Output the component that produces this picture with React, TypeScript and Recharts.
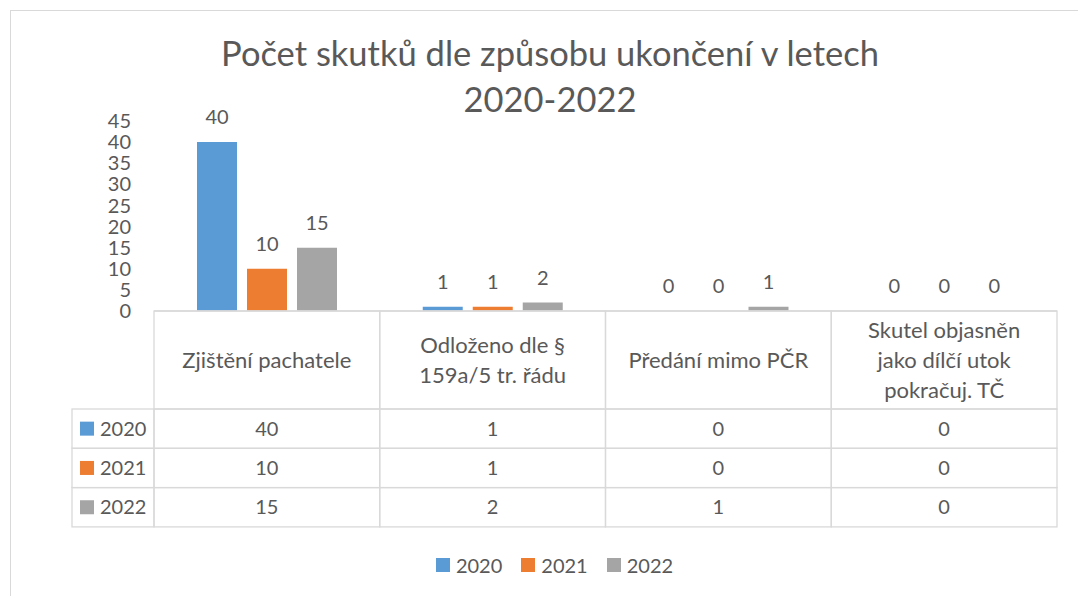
import React from "react";
import { Bar, BarChart, LabelList, Legend, XAxis, YAxis } from "recharts";

const categories = [
  "Zjištění pachatele",
  "Odloženo dle §\n159a/5 tr. řádu",
  "Předání mimo PČR",
  "Skutel objasněn\njako dílčí utok\npokračuj. TČ",
];
const years = ["2020", "2021", "2022"];
const values2020 = [40, 1, 0, 0];
const values2021 = [10, 1, 0, 0];
const values2022 = [15, 2, 1, 0];
const yTicks = [0, 5, 10, 15, 20, 25, 30, 35, 40, 45];
const colors = ["#5B9BD5", "#ED7D31", "#A5A5A5"];
const titleLines = ["Počet skutků dle způsobu ukončení v letech", "2020-2022"];

const series = [values2020, values2021, values2022];
const keys = years.map((y) => "y" + y);

const data = categories.map((name, i) => {
  const row: Record<string, string | number> = { name };
  keys.forEach((k, s) => {
    row[k] = series[s][i];
  });
  return row;
});

// layout
const W = 1078;
const H = 596;
const PLOT_L = 154;
const PLOT_R = 1057;
const CW = (PLOT_R - PLOT_L) / categories.length;
const HEADER_H = 98;
const ROW_H = 39.3;
const LABEL_W = 82;
const LINE_H = 30;
const GRID = "#D9D9D9";
const TXT = "#595959";
const FS = 20; // digits
const FS_TEXT = 22; // words

function TableTick(props: any) {
  const { x, y, payload } = props;
  const i = payload.index ?? props.index;
  const left = x - CW / 2;
  const lines = String(payload.value).split("\n");
  const hy = y + HEADER_H / 2;
  return (
    <g>
      <rect x={left} y={y} width={CW} height={HEADER_H} fill="none" stroke={GRID} strokeWidth={1.3} />
      <text textAnchor="middle" fill={TXT} fontSize={FS_TEXT}>
        {lines.map((l, k) => (
          <tspan key={k} x={x} y={hy + (k - (lines.length - 1) / 2) * LINE_H} dy="0.35em">
            {l}
          </tspan>
        ))}
      </text>
      {series.map((vals, s) => {
        const ry = y + HEADER_H + s * ROW_H;
        return (
          <g key={s}>
            <rect x={left} y={ry} width={CW} height={ROW_H} fill="none" stroke={GRID} strokeWidth={1.3} />
            <text x={x} y={ry + ROW_H / 2} dy="0.35em" textAnchor="middle" fill={TXT} fontSize={FS}>
              {vals[i]}
            </text>
            {i === 0 && (
              <g>
                <rect
                  x={left - LABEL_W}
                  y={ry}
                  width={LABEL_W}
                  height={ROW_H}
                  fill="none"
                  stroke={GRID}
                  strokeWidth={1.3}
                />
                <rect x={left - LABEL_W + 8} y={ry + ROW_H / 2 - 7} width={14} height={14} fill={colors[s]} />
                <text x={left - LABEL_W + 28} y={ry + ROW_H / 2} dy="0.35em" fill={TXT} fontSize={FS}>
                  {years[s]}
                </text>
              </g>
            )}
          </g>
        );
      })}
    </g>
  );
}

function LegendContent({ payload }: any) {
  return (
    <div style={{ display: "flex", justifyContent: "center", gap: 19, fontSize: FS, color: TXT, lineHeight: "30px" }}>
      {(payload || []).map((p: any) => (
        <span key={p.value} style={{ display: "flex", alignItems: "center" }}>
          <span style={{ width: 14, height: 14, background: p.color, marginRight: 6, display: "inline-block" }} />
          {p.value}
        </span>
      ))}
    </div>
  );
}

export default function App() {
  return (
    <div
      style={{
        position: "absolute",
        left: 0,
        top: 0,
        width: W,
        height: H,
        overflow: "hidden",
        background: "#fff",
        fontFamily: "Lato, 'Open Sans', sans-serif",
      }}
    >
      <div
        style={{
          position: "absolute",
          left: 10,
          top: 10,
          width: 1100,
          height: 620,
          border: "1px solid #D9D9D9",
        }}
      />
      <div
        style={{
          position: "absolute",
          left: 0,
          top: 30,
          width: 1100,
          textAlign: "center",
          fontSize: 34.5,
          lineHeight: "46px",
          color: TXT,
        }}
      >
        {titleLines.map((t) => (
          <div key={t}>{t}</div>
        ))}
      </div>
      <div style={{ position: "absolute", left: 0, top: 0 }}>
        <BarChart
          width={W}
          height={H}
          data={data}
          margin={{ top: 121, right: W - PLOT_R, left: PLOT_L - 60, bottom: 38 }}
          barSize={40}
          barGap={10}
        >
          <XAxis
            dataKey="name"
            height={217}
            interval={0}
            tickLine={false}
            tickSize={0}
            tickMargin={0}
            axisLine={{ stroke: GRID, strokeWidth: 1.3 }}
            tick={<TableTick />}
          />
          <YAxis
            width={60}
            domain={[0, 45]}
            ticks={yTicks}
            interval={0}
            axisLine={false}
            tickLine={false}
            tickSize={0}
            tickMargin={23}
            tick={{ fill: TXT, fontSize: FS }}
          />
          <Legend
            verticalAlign="bottom"
            height={30}
            wrapperStyle={{ left: 0, width: 1109, top: 550, bottom: "auto" }}
            content={<LegendContent />}
          />
          {keys.map((k, s) => (
            <Bar
              key={k}
              dataKey={k}
              name={years[s]}
              fill={colors[s]}
              minPointSize={0.01}
              isAnimationActive={false}
            >
              <LabelList dataKey={k} position="top" offset={18} fill={TXT} fontSize={FS} />
            </Bar>
          ))}
        </BarChart>
      </div>
    </div>
  );
}
